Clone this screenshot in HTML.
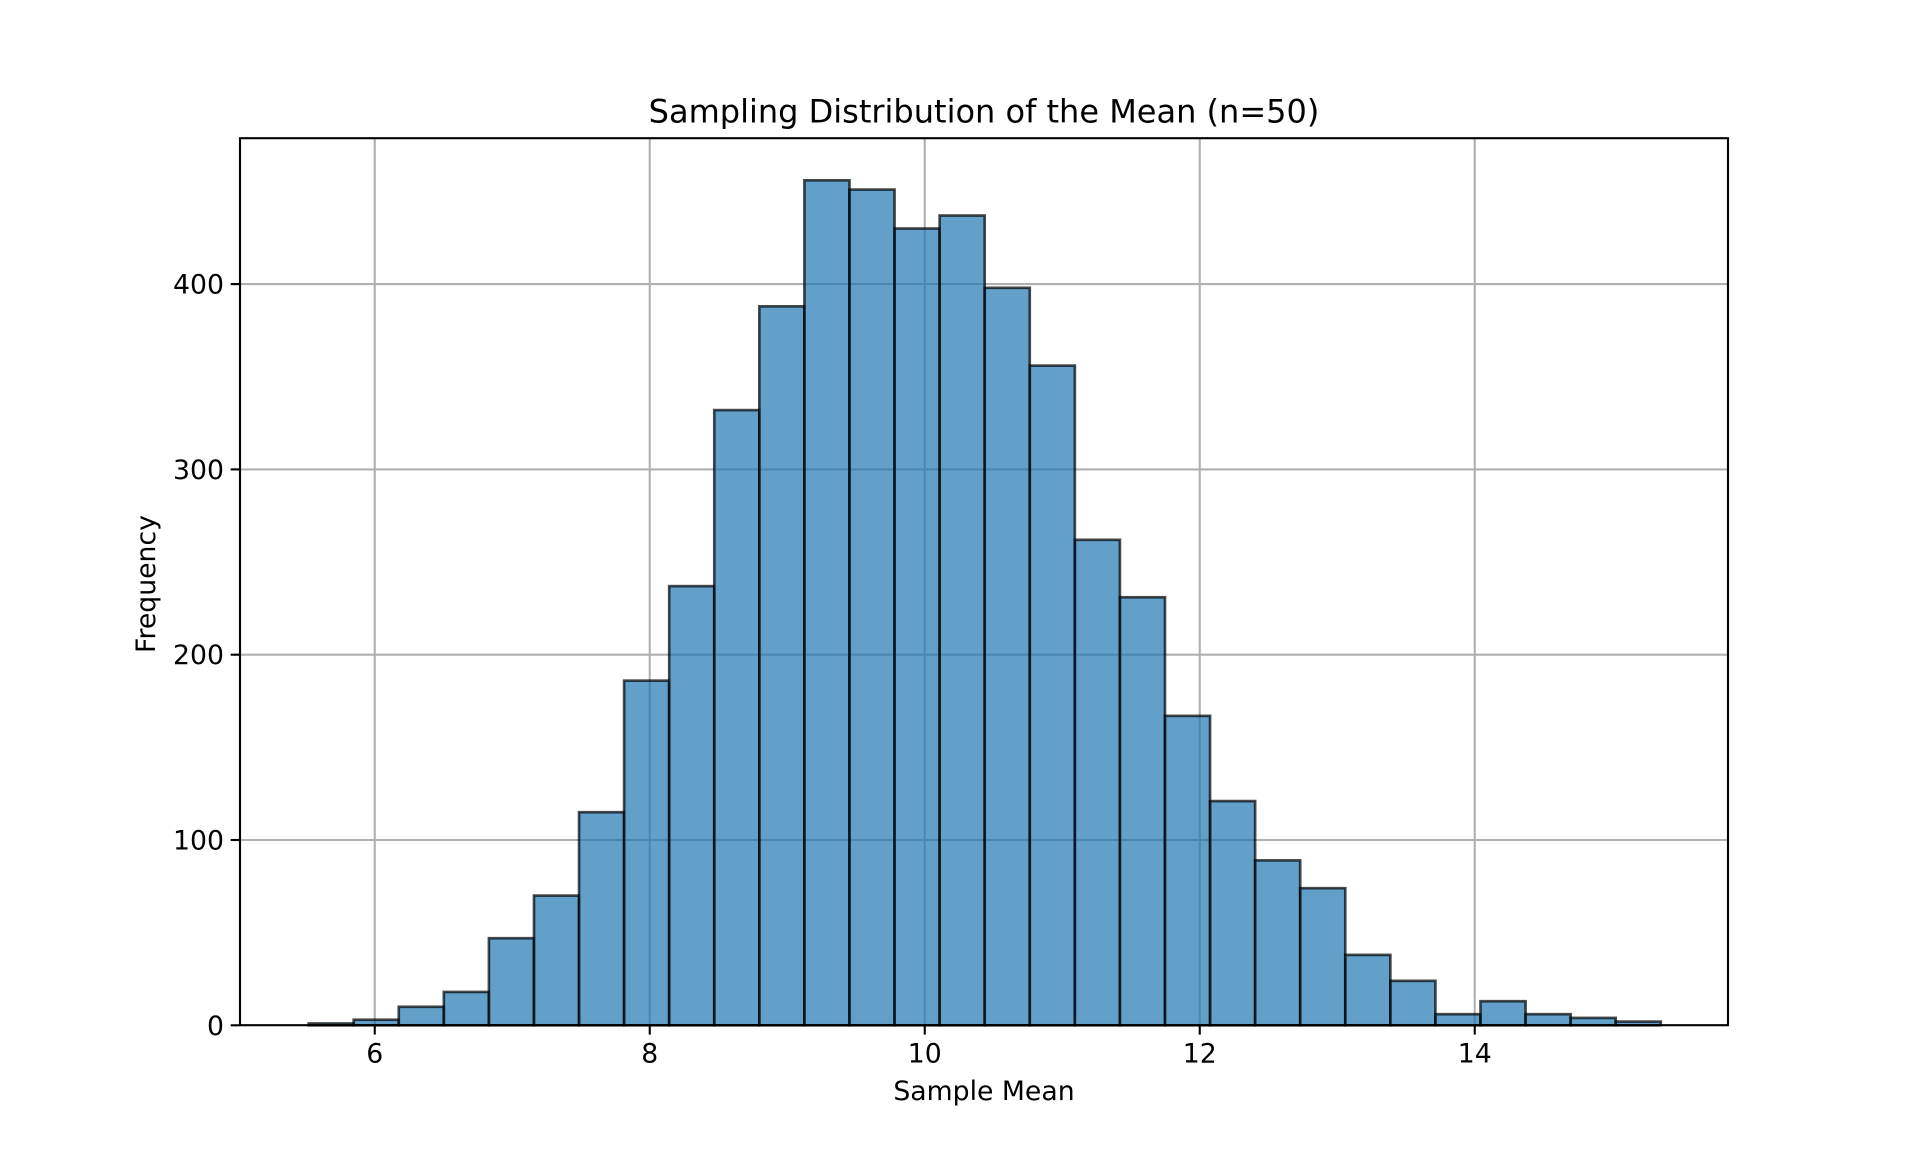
<!DOCTYPE html>
<html><head><meta charset="utf-8"><style>
html,body{margin:0;padding:0;background:#fff;}
svg text{font-family:"DejaVu Sans","Liberation Sans",sans-serif;fill:#000;}
</style></head><body>
<svg id="s" width="1920" height="1152" xmlns="http://www.w3.org/2000/svg">
<rect width="1920" height="1152" fill="#fff"/>
<g id="grid"></g>
<g id="bars"></g>
<rect x="240" y="138.2" width="1488" height="887" fill="none" stroke="#000" stroke-width="2.1"/>
<g id="ticks"></g>
<text x="984" y="122.5" font-size="32" text-anchor="middle">Sampling Distribution of the Mean (n=50)</text>
<text x="984" y="1100" font-size="26.7" text-anchor="middle">Sample Mean</text>
<text transform="translate(155,584) rotate(-90)" font-size="26.7" text-anchor="middle">Frequency</text>
</svg>
<script>
var NS="http://www.w3.org/2000/svg";
function el(p,t,a,txt){var e=document.createElementNS(NS,t);for(var k in a)e.setAttribute(k,a[k]);if(txt!==undefined)e.textContent=txt;document.getElementById(p).appendChild(e);}
var L=240,R=1728,T=138.2,B=1025.3;
var xmin=5.020,pxu=137.5,ypu=1.853;
function X(v){return L+(v-xmin)*pxu;}
function Y(v){return B-v*ypu;}
[6,8,10,12,14].forEach(function(v){var x=X(v);
 el("grid","line",{x1:x,x2:x,y1:T,y2:B,stroke:"#b0b0b0","stroke-width":2.1});
 el("ticks","line",{x1:x,x2:x,y1:B,y2:B+9.3,stroke:"#000","stroke-width":2.1});
 el("ticks","text",{x:x,y:B+37,"font-size":26.7,"text-anchor":"middle"},String(v));});
[0,100,200,300,400].forEach(function(v){var y=Y(v);
 if(v>0)el("grid","line",{x1:L,x2:R,y1:y,y2:y,stroke:"#b0b0b0","stroke-width":2.1});
 el("ticks","line",{x1:L-9.3,x2:L,y1:y,y2:y,stroke:"#000","stroke-width":2.1});
 el("ticks","text",{x:L-16,y:y+9.5,"font-size":26.7,"text-anchor":"end"},String(v));});
var h=[1,3,10,18,47,70,115,186,237,332,388,456,451,430,437,398,356,262,231,167,121,89,74,38,24,6,13,6,4,2];
var x0=5.519,w=0.3278;
h.forEach(function(v,i){var a=X(x0+i*w),b=X(x0+(i+1)*w);
 el("bars","rect",{x:a,y:Y(v),width:b-a,height:v*ypu,fill:"rgba(31,119,180,0.7)",stroke:"rgba(0,0,0,0.7)","stroke-width":2.67});});
</script>
</body></html>
